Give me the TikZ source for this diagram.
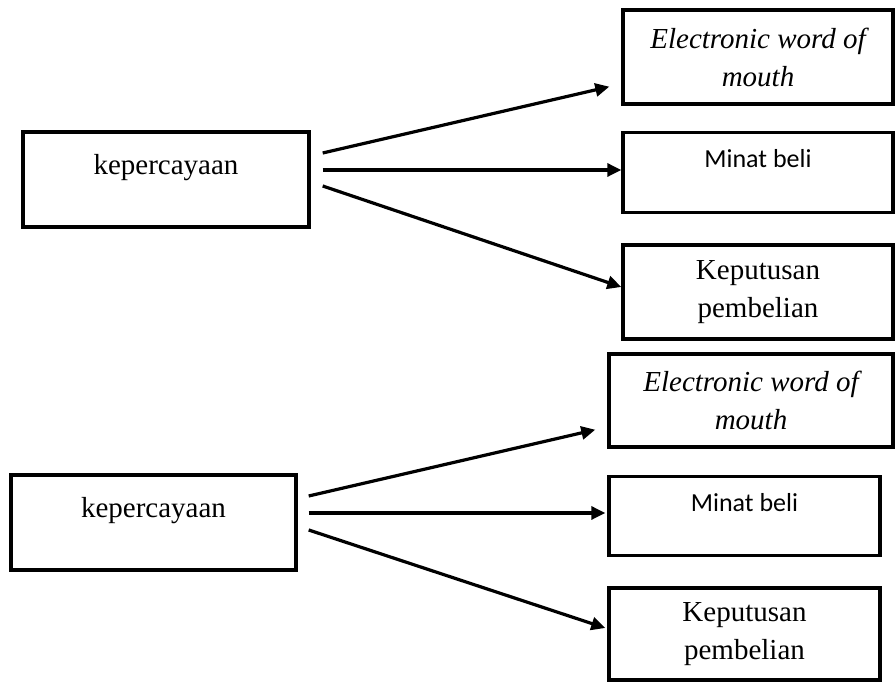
\documentclass[tikz,border=0pt]{standalone}
\usepackage{fontspec}
\setmainfont{Liberation Serif}
\newfontfamily\minatfont{Carlito}
\usetikzlibrary{arrows.meta, positioning}

\begin{document}
\begin{tikzpicture}[x=0.5pt, y=-0.5pt]
		
		\tikzset{box/.style={
				draw, line width=1.7pt,
				inner sep=0pt,
				align=center,
				font=\fontsize{14.5}{19}\selectfont
			},
			kep box/.style={box,
				minimum width=#1,
				text height=21.5pt, text depth=26pt
			},
			ewom box/.style={box,
				minimum width=#1, minimum height=47pt,
				font=\itshape\fontsize{14.5}{19}\selectfont
			},
			minat box/.style={box,
				minimum width=#1,
				text height=17.5pt, text depth=22.25pt,
				font=\minatfont\fontsize{13}{15}\selectfont
			},
			putus box/.style={box,
				minimum width=#1, minimum height=47pt
			},
			panah/.style={-{Triangle[length=7pt,width=6.5pt]}, line width=1.6pt}
		}
		
		\useasboundingbox (0,0) rectangle (895,683);
		
		% atas
		\node[kep box=143pt] (kep1) at (166,179.5) {kepercayaan};
		\node[ewom box=135pt] (ewom1) at (758,57) {Electronic word of\\mouth};
		\node[minat box=135pt] (minat1) at (758,172.5) {Minat beli};
		\node[putus box=135pt] (putus1) at (758,292) {Keputusan\\pembelian};
		
		\draw[panah] ([xshift=6pt,yshift=13.25pt]kep1.east) -- ([xshift=-6pt,yshift=9.5pt]ewom1.south west);
		\draw[panah] ([xshift=6pt,yshift=4.75pt]kep1.east) -- ([yshift=1.25pt]minat1.west);
		\draw[panah] ([xshift=6pt,yshift=-3.25pt]kep1.east) -- ([yshift=2.5pt]putus1.west);
		
		% bawah
		\node[kep box=142.5pt] (kep2) at (153.5,522.5) {kepercayaan};
		\node[ewom box=142pt, minimum height=46.5pt] (ewom2) at (751,400.5) {Electronic word of\\mouth};
		\node[minat box=135.5pt] (minat2) at (744.5,516) {Minat beli};
		\node[putus box=135.5pt, minimum height=46pt] (putus2) at (744.5,634) {Keputusan\\pembelian};
		
		\draw[panah] ([xshift=5.5pt,yshift=13.25pt]kep2.east) -- ([xshift=-6pt,yshift=9.5pt]ewom2.south west);
		\draw[panah] ([xshift=5.5pt,yshift=4.75pt]kep2.east) -- ([xshift=-1pt,yshift=1.5pt]minat2.west);
		\draw[panah] ([xshift=5.5pt,yshift=-3.75pt]kep2.east) -- ([xshift=-1pt,yshift=3pt]putus2.west);
		
\end{tikzpicture}
\end{document}
